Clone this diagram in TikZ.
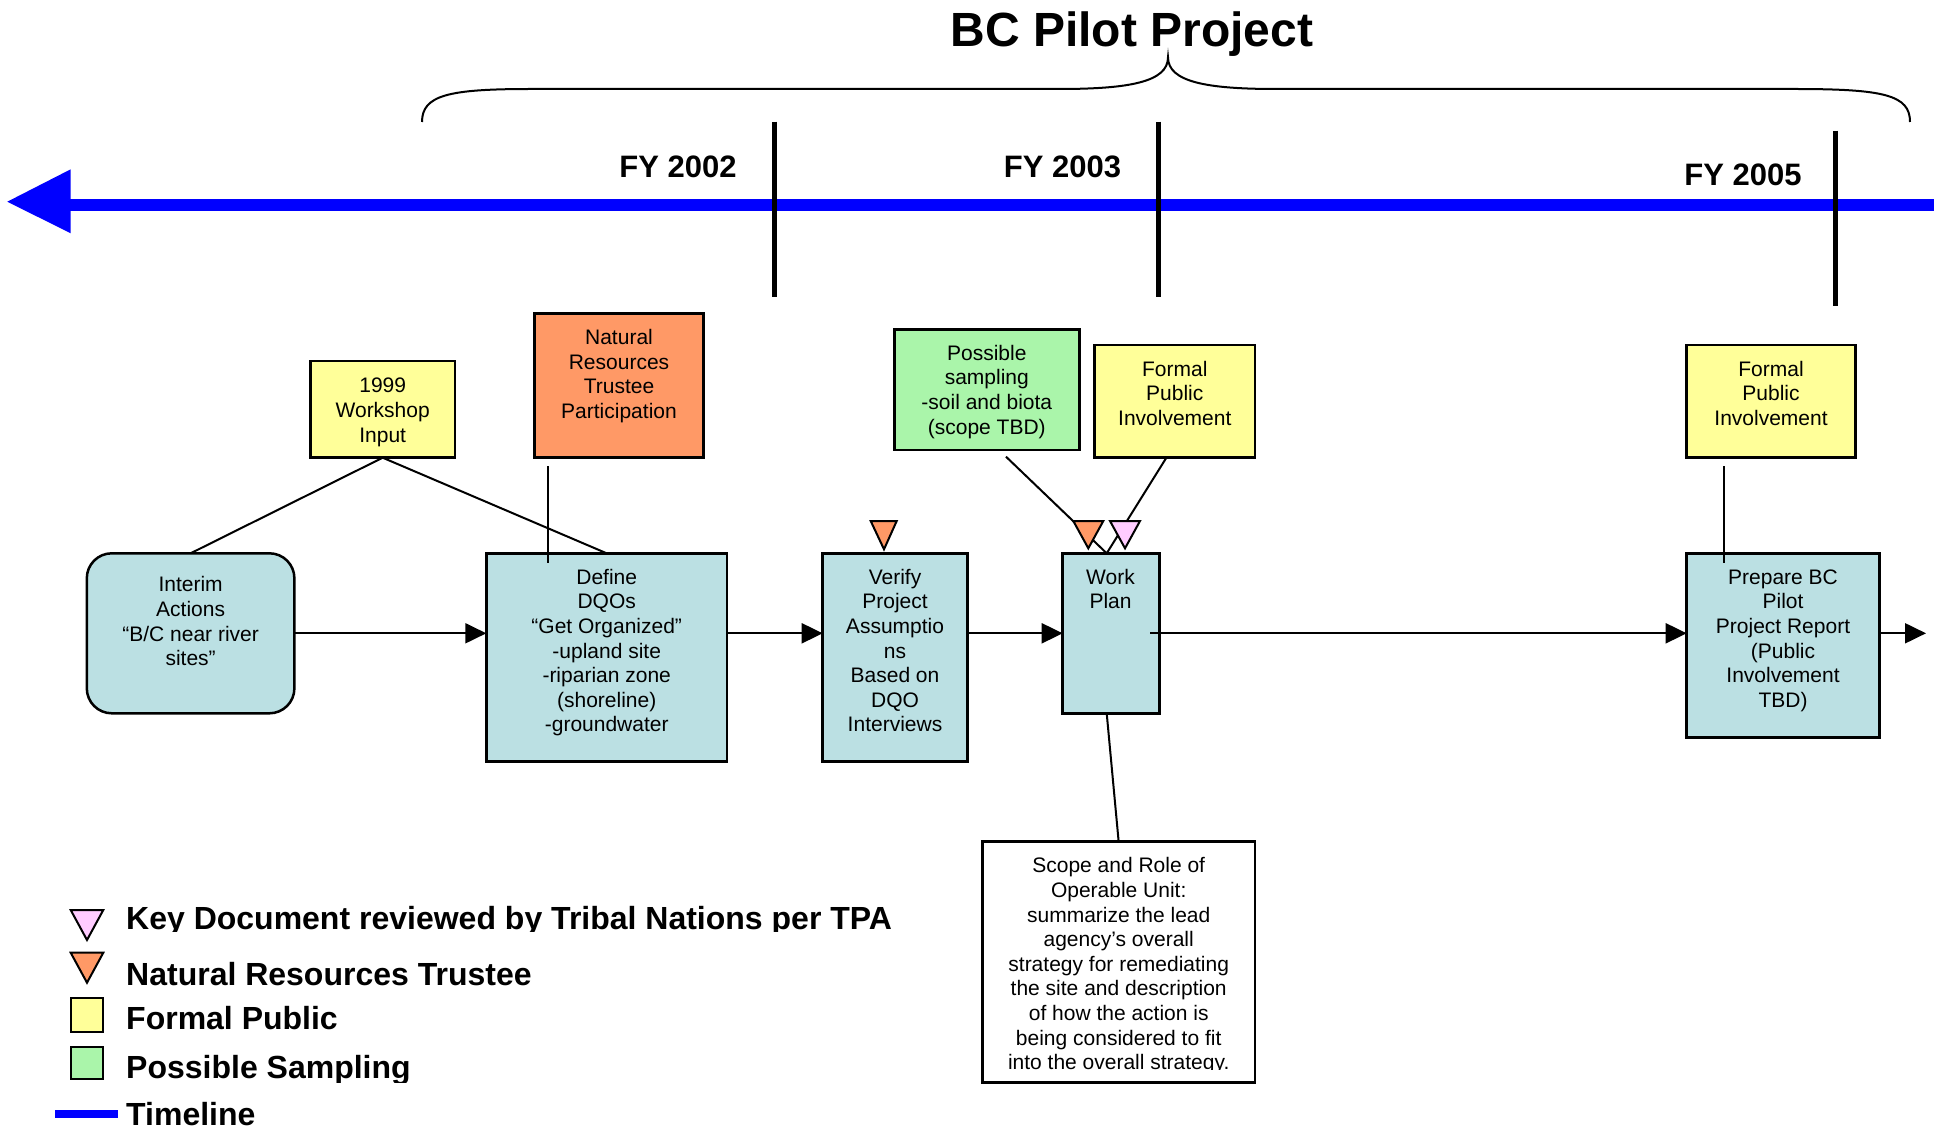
\documentclass[tikz,border=0pt]{standalone}
\usepackage{fontspec}
\setmainfont{Liberation Sans}
\usetikzlibrary{arrows.meta,calc}
\definecolor{ybox}{HTML}{FFFF99}
\definecolor{obox}{HTML}{FF9966}
\definecolor{gbox}{HTML}{AAF5AA}
\definecolor{bbox}{HTML}{BBE0E3}
\definecolor{pbox}{HTML}{FFCCFF}
\definecolor{tlblue}{HTML}{0000FF}
\newcommand\mystrut{\rule{0pt}{19pt}}
\begin{document}
\begin{tikzpicture}[x=1pt,y=-1pt,
  box/.style={draw=black, line width=2.5pt, anchor=north west, inner sep=0pt, outer sep=0pt, fill=#1},
  txt/.style={anchor=north, inner sep=0pt, align=center, font=\fontsize{21}{24.6}\selectfont},
  conn/.style={draw=black, line width=2pt},
  arr/.style={conn, -{Triangle[length=21pt,width=20pt]}},
  tri/.style={draw=black, line width=2pt, fill=#1, line join=miter},
  fy/.style={anchor=base, inner sep=0pt, font=\fontsize{31}{36}\selectfont\bfseries},
  leg/.style={anchor=base west, inner sep=0pt, font=\fontsize{32}{36}\selectfont\bfseries},
  tickbar/.style={draw=black, line width=5pt},
]
\useasboundingbox (0,0) rectangle (1934,1131);

% title and brace
\node[anchor=base, inner sep=0pt, font=\fontsize{48}{58}\selectfont\bfseries] (title) at (1132,47) {BC Pilot Project};
\coordinate (brL) at (422,122);
\coordinate (brM) at (1168,57.3);
\coordinate (brR) at (1910,122);
\draw[line width=2pt] (brL) .. controls (422,95) and (449,89) .. (531,89) -- (1059,89)
  .. controls (1129,89) and (1168,82) .. (brM)
  .. controls (1168,82) and (1207,89) .. (1276,89) -- (1795,89)
  .. controls (1884,89) and (1910,95) .. (brR);

% timeline
\coordinate (tlL) at (70,205.2);
\coordinate (tlR) at (1934,205.2);
\draw[tlblue, line width=11.7pt] (tlL) -- (tlR);
\fill[tlblue] (7.3,201.7) -- (70.7,169.3) -- (70.7,233.3) -- cycle;

% year ticks
\coordinate (t1a) at (774.5,121.7); \coordinate (t1b) at (774.5,296.7);
\coordinate (t2a) at (1158.5,121.7); \coordinate (t2b) at (1158.5,296.7);
\coordinate (t3a) at (1835,130.7); \coordinate (t3b) at (1835,306);
\draw[tickbar] (t1a) -- (t1b);
\draw[tickbar] (t2a) -- (t2b);
\draw[tickbar] (t3a) -- (t3b);
\node[fy] (fy2) at (678,177.7) {FY 2002};
\node[fy] (fy3) at (1062.5,177.7) {FY 2003};
\node[fy] (fy5) at (1743,185.7) {FY 2005};

% boxes
\node[box=ybox, minimum width=144.6pt, minimum height=96.7pt] (ws) at (310.4,361) {};
\node[txt] (wsT) at (382.7,373.7) {\mystrut 1999\\Workshop\\Input};

\node[box=obox, minimum width=168.7pt, minimum height=144.4pt] (nr) at (534.6,313.3) {};
\node[txt] (nrT) at (619,325.3) {\mystrut Natural\\Resources\\Trustee\\Participation};

\node[box=bbox, rounded corners=25pt, minimum width=207.6pt, minimum height=160pt] (ia) at (86.8,553.3) {};
\node[txt] (iaT) at (190.6,572.7) {\mystrut Interim\\Actions\\“B/C near river\\sites”};

\node[box=bbox, minimum width=240.7pt, minimum height=208.4pt] (dqo) at (486.3,553.3) {};
\node[txt] (dqoT) at (606.7,565) {\mystrut Define\\DQOs\\“Get Organized”\\-upland site\\-riparian zone\\(shoreline)\\-groundwater};

\node[box=bbox, minimum width=144.6pt, minimum height=208.4pt] (vf) at (822.7,553.3) {};
\node[txt] (vfT) at (895,565) {\mystrut Verify\\Project\\Assumptio\\ns\\Based on\\DQO\\Interviews};

\node[box=bbox, minimum width=96.6pt, minimum height=160pt] (wp) at (1062.7,553.3) {};
\node[txt] (wpT) at (1110.5,565) {\mystrut Work\\Plan};

\node[box=gbox, minimum width=185pt, minimum height=120.7pt] (smp) at (894.3,329.3) {};
\node[txt] (smpT) at (986.8,341) {\mystrut Possible\\sampling\\-soil and biota\\(scope TBD)};

\node[box=ybox, minimum width=160.3pt, minimum height=112.7pt] (fp1) at (1094.7,345) {};
\node[txt] (fp1T) at (1174.8,357) {\mystrut Formal\\Public\\Involvement};

\node[box=ybox, minimum width=168.6pt, minimum height=112.7pt] (fp2) at (1686.7,345) {};
\node[txt] (fp2T) at (1771,357) {\mystrut Formal\\Public\\Involvement};

\node[box=bbox, minimum width=192.6pt, minimum height=184.4pt] (pr) at (1686.7,553.3) {};
\node[txt] (prT) at (1783,565) {\mystrut Prepare BC\\Pilot\\Project Report\\(Public\\Involvement\\TBD)};

\node[box=white, minimum width=272.7pt, minimum height=240.6pt] (sc) at (982.3,841.7) {};
\begin{scope}
\clip (985,845) rectangle (1252,1069);
\node[txt] (scT) at (1118.7,853.7) {\mystrut Scope and Role of\\Operable Unit:\\summarize the lead\\agency’s overall\\strategy for remediating\\the site and description\\of how the action is\\being considered to fit\\into the overall strategy.};
\end{scope}

% flow arrows
\coordinate (row) at (0,633.3);
\coordinate (wpout) at (1150,633.3);
\coordinate (flowend) at (1926,633.3);
\draw[arr] (ia.east |- row) -- (dqo.west |- row);
\draw[arr] (dqo.east |- row) -- (vf.west |- row);
\draw[arr] (vf.east |- row) -- (wp.west |- row);
\draw[arr] (wpout) -- (pr.west |- row);
\draw[arr] (pr.east |- row) -- (flowend);

% connectors
\draw[conn] (ws.south) -- (ia.north);
\draw[conn] (ws.south) -- (dqo.north);
\coordinate (nrA) at (547.5,466); \coordinate (nrB) at (547.5,563);
\draw[conn] (nrA) -- (nrB);
\coordinate (wpTop) at (1106.7,553.3);
\coordinate (smpA) at (1006,456.7);
\coordinate (fp1A) at (1166,458.3);
\draw[conn] (smpA) -- (wpTop);
\draw[conn] (fp1A) -- (wpTop);
\coordinate (fp2A) at (1724,466); \coordinate (fp2B) at (1724,563.3);
\draw[conn] (fp2A) -- (fp2B);
\coordinate (wpBot) at (1106.7,713.3);
\draw[conn] (wpBot) -- (sc.north);

% markers
\draw[tri=obox] (870.7,521) -- (896.7,521) -- (884,549.3) -- cycle;
\draw[tri=obox] (1073.3,521) -- (1103.3,521) -- (1088.3,548.3) -- cycle;
\draw[tri=pbox] (1110,521) -- (1140,521) -- (1125,548.3) -- cycle;

% legend
\draw[tri=pbox] (70.7,910) -- (103.3,910) -- (87,940) -- cycle;
\draw[tri=obox] (70.7,952.7) -- (103.3,952.7) -- (87,982.7) -- cycle;
\draw[line width=2pt, fill=ybox] (70.7,998.3) rectangle (103.3,1031.7);
\draw[line width=2pt, fill=gbox] (70.7,1046.7) rectangle (103.3,1079.3);
\coordinate (lgA) at (55,1113.5); \coordinate (lgB) at (118.3,1113.5);
\draw[tlblue, line width=8pt] (lgA) -- (lgB);
\begin{scope}
\clip (120,890) rectangle (960,931);
\node[leg] (lg1) at (126,929.3) {Key Document reviewed by Tribal Nations per TPA};
\end{scope}
\node[leg] (lg2) at (126,985) {Natural Resources Trustee};
\node[leg] (lg3) at (126,1029.3) {Formal Public};
\begin{scope}
\clip (120,1040) rectangle (960,1082);
\node[leg] (lg4) at (126,1078) {Possible Sampling};
\end{scope}
\node[leg] (lg5) at (126,1125) {Timeline};
\end{tikzpicture}
\end{document}
